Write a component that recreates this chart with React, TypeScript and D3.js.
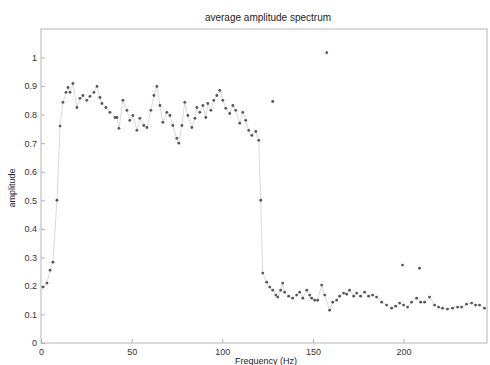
import React, { useEffect, useRef } from "react";
import * as d3 from "d3";

// Frequency bins (Hz) and averaged amplitude at each bin
const freqs = [
  1.1, 3.3, 5.0, 6.6, 8.8, 10.5, 12.1, 13.8, 14.9, 16.0, 17.6, 19.8, 21.5, 23.1, 25.3, 27.0,
  29.2, 30.9, 32.5, 33.6, 35.8, 38.0, 40.8, 41.9, 43.0, 45.2, 47.4, 49.0, 50.7, 52.9, 54.5,
  56.7, 58.4, 60.6, 62.3, 63.9, 65.6, 67.2, 69.4, 71.1, 72.7, 74.9, 76.0, 77.7, 79.3, 81.0,
  83.2, 84.9, 86.0, 87.6, 89.3, 90.9, 92.0, 93.7, 95.3, 97.0, 98.6, 100.3, 101.9, 104.1,
  105.8, 107.4, 109.6, 111.3, 112.9, 114.6, 116.3, 118.5, 120.1, 121.2, 122.3, 124.5, 126.2,
  127.8, 129.5, 130.6, 132.2, 133.3, 134.4, 136.6, 138.8, 141.0, 142.7, 144.4, 146.6, 148.2,
  149.3, 151.0, 152.6, 154.8, 156.5, 159.2, 160.9, 163.1, 164.7, 166.9, 168.6, 170.2, 172.5,
  174.1, 176.3, 178.5, 180.7, 182.9, 185.1, 187.9, 190.6, 193.4, 195.6, 197.8, 200.0, 202.2,
  204.4, 207.2, 209.4, 211.6, 214.3, 217.1, 219.3, 221.5, 224.2, 227.0, 229.8, 232.0, 234.7,
  237.5, 239.7, 241.9, 244.6,
];
const amplitudes = [
  0.196, 0.21, 0.255, 0.283, 0.5, 0.76, 0.843, 0.878, 0.895, 0.878, 0.909, 0.825, 0.857, 0.867,
  0.85, 0.864, 0.878, 0.899, 0.86, 0.839, 0.825, 0.808, 0.79, 0.79, 0.752, 0.85, 0.815, 0.78,
  0.797, 0.745, 0.787, 0.762, 0.755, 0.815, 0.867, 0.899, 0.832, 0.773, 0.808, 0.797, 0.762,
  0.717, 0.7, 0.762, 0.843, 0.797, 0.755, 0.787, 0.825, 0.808, 0.832, 0.79, 0.839, 0.815, 0.85,
  0.867, 0.885, 0.85, 0.822, 0.804, 0.832, 0.815, 0.77, 0.808, 0.78, 0.745, 0.727, 0.741, 0.71,
  0.5, 0.245, 0.213, 0.196, 0.185, 0.168, 0.161, 0.185, 0.21, 0.178, 0.164, 0.157, 0.168, 0.178,
  0.157, 0.185, 0.168, 0.157, 0.15, 0.15, 0.203, 0.168, 0.115, 0.143, 0.15, 0.164, 0.175, 0.171,
  0.185, 0.164, 0.175, 0.164, 0.178, 0.164, 0.168, 0.161, 0.143, 0.133, 0.122, 0.129, 0.14,
  0.133, 0.126, 0.143, 0.157, 0.143, 0.143, 0.161, 0.133, 0.126, 0.122, 0.119, 0.122, 0.126,
  0.126, 0.136, 0.14, 0.133, 0.133, 0.122,
];

// Isolated samples plotted as markers only
const strayFreqs = [127.8, 157.6, 199.4, 208.8];
const strayAmps = [0.846, 1.017, 0.273, 0.262];

const xTicks = [0, 50, 100, 150, 200];
const yTicks = [0, 0.1, 0.2, 0.3, 0.4, 0.5, 0.6, 0.7, 0.8, 0.9, 1];

const W = 490;
const H = 365;
const margin = { top: 29, right: 3, bottom: 22, left: 41 };

export default function App() {
  const ref = useRef<SVGSVGElement | null>(null);

  useEffect(() => {
    const svg = d3.select(ref.current);
    svg.selectAll("*").remove();

    const x = d3.scaleLinear().domain([0, 246]).range([margin.left, W - margin.right]);
    const y = d3.scaleLinear().domain([0, 1.1]).range([H - margin.bottom, margin.top]);

    const font = "Liberation Sans, Arial, sans-serif";
    const axisColor = "#b5b5b5";

    // plot box
    svg
      .append("rect")
      .attr("x", x(0))
      .attr("y", y(1.1))
      .attr("width", x(246) - x(0))
      .attr("height", y(0) - y(1.1))
      .attr("fill", "none")
      .attr("stroke", axisColor)
      .attr("stroke-width", 1);

    // x axis (ticks pointing inward)
    const gx = svg
      .append("g")
      .attr("transform", `translate(0,${y(0)})`)
      .call(
        d3
          .axisBottom(x)
          .tickValues(xTicks)
          .tickSize(-4)
          .tickPadding(6)
          .tickFormat(d3.format("d"))
      );
    gx.select(".domain").remove();
    gx.selectAll(".tick line").attr("stroke", axisColor);
    gx.selectAll(".tick text")
      .attr("font-family", font)
      .attr("font-size", 9)
      .attr("fill", "#333");

    // y axis (ticks pointing inward)
    const gy = svg
      .append("g")
      .attr("transform", `translate(${x(0)},0)`)
      .call(
        d3
          .axisLeft(y)
          .tickValues(yTicks)
          .tickSize(-4)
          .tickPadding(4)
          .tickFormat((d) => (d === 0 ? "0" : d === 1 ? "1" : d3.format(".1f")(d as number)))
      );
    gy.select(".domain").remove();
    gy.selectAll(".tick line").attr("stroke", axisColor);
    gy.selectAll(".tick text")
      .attr("font-family", font)
      .attr("font-size", 9)
      .attr("fill", "#333");

    // spectrum line
    const pts: [number, number][] = freqs.map((f, i) => [f, amplitudes[i]]);
    const line = d3
      .line<[number, number]>()
      .x((d) => x(d[0]))
      .y((d) => y(d[1]));
    svg
      .append("path")
      .datum(pts)
      .attr("d", line)
      .attr("fill", "none")
      .attr("stroke", "#cfcfcf")
      .attr("stroke-width", 0.8);

    // sample markers
    svg
      .append("g")
      .selectAll("circle")
      .data(pts)
      .join("circle")
      .attr("cx", (d) => x(d[0]))
      .attr("cy", (d) => y(d[1]))
      .attr("r", 1.4)
      .attr("fill", "#555");

    svg
      .append("g")
      .selectAll("circle")
      .data(strayFreqs.map((f, i) => [f, strayAmps[i]] as [number, number]))
      .join("circle")
      .attr("cx", (d) => x(d[0]))
      .attr("cy", (d) => y(d[1]))
      .attr("r", 1.4)
      .attr("fill", "#555");

    // title and axis labels
    svg
      .append("text")
      .attr("x", (x(0) + x(246)) / 2 + 4)
      .attr("y", 21)
      .attr("text-anchor", "middle")
      .attr("font-family", font)
      .attr("font-size", 10)
      .attr("fill", "#222")
      .text("average amplitude spectrum");

    svg
      .append("text")
      .attr("x", (x(0) + x(246)) / 2 + 2)
      .attr("y", 364)
      .attr("text-anchor", "middle")
      .attr("font-family", font)
      .attr("font-size", 9)
      .attr("fill", "#222")
      .text("Frequency (Hz)");

    svg
      .append("text")
      .attr("transform", `translate(15,${(y(0) + y(1.1)) / 2 + 2}) rotate(-90)`)
      .attr("text-anchor", "middle")
      .attr("font-family", font)
      .attr("font-size", 9)
      .attr("fill", "#222")
      .text("amplitude");
  }, []);

  return (
    <svg
      ref={ref}
      width={W}
      height={H}
      style={{ position: "absolute", left: 0, top: 0, background: "#fff" }}
    />
  );
}
